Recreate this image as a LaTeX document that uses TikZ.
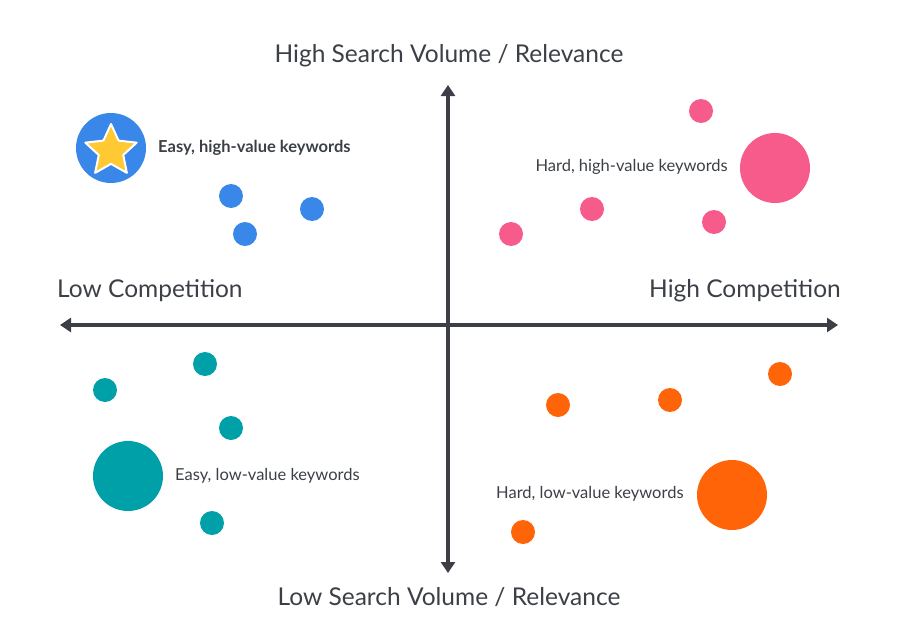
\documentclass[tikz,border=0pt]{standalone}
\usepackage{fontspec}
\setmainfont{Lato}
\usetikzlibrary{shapes.geometric,arrows.meta}
\definecolor{ax}{HTML}{3C4046}
\definecolor{cb}{HTML}{3A87EA}
\definecolor{cp}{HTML}{F75B8B}
\definecolor{ct}{HTML}{00A0A8}
\definecolor{co}{HTML}{FF6508}
\definecolor{cy}{HTML}{FFC933}
\begin{document}
\begin{tikzpicture}[x=1pt,y=-1pt,
  axis/.style={draw=ax,line width=4pt,{Triangle[length=11pt,width=14pt]}-{Triangle[length=11pt,width=14pt]}},
  sm/.style={circle,minimum size=24pt,inner sep=0pt},
  bg/.style={circle,minimum size=70pt,inner sep=0pt},
  ttl/.style={font=\fontsize{24.5}{28}\selectfont,text=ax,inner sep=0pt},
  lbl/.style={font=\fontsize{16.5}{19}\selectfont,text=ax,inner sep=0pt}]
\useasboundingbox (0,0) rectangle (898,624);
\coordinate (L) at (60,325); \coordinate (R) at (838,325);
\coordinate (T) at (448,85); \coordinate (B) at (448,573);
\draw[axis] (L) -- (R);
\draw[axis] (T) -- (B);
\node[ttl] (t1) at (449,56) {High Search Volume / Relevance};
\node[ttl] (t2) at (449,597) {Low Search Volume / Relevance};
\node[ttl,anchor=west] (t3) at (57,291) {Low Competition};
\node[ttl,anchor=east] (t4) at (841,291) {High Competition};
% blue
\node[bg,fill=cb] (bs) at (111,148) {};
\node[star,star points=5,star point ratio=2.1,minimum size=54pt,inner sep=0pt,fill=cy,draw=white,line width=2pt,line join=round] (st) at (111,151) {};
\node[sm,fill=cb] (b1) at (231,196) {};
\node[sm,fill=cb] (b2) at (312,209) {};
\node[sm,fill=cb] (b3) at (245,234) {};
\node[lbl,anchor=west,font=\fontsize{16.5}{19}\selectfont\bfseries] (lb) at (158,148) {Easy, high-value keywords};
% pink
\node[sm,fill=cp] (p1) at (701,111) {};
\node[bg,fill=cp] (p2) at (775,168) {};
\node[sm,fill=cp] (p3) at (592,209) {};
\node[sm,fill=cp] (p4) at (714,222) {};
\node[sm,fill=cp] (p5) at (511,234) {};
\node[lbl,anchor=east] (lp) at (728,167) {Hard, high-value keywords};
% teal
\node[sm,fill=ct] (c1) at (205,364) {};
\node[sm,fill=ct] (c2) at (105,390) {};
\node[sm,fill=ct] (c3) at (231,428) {};
\node[bg,fill=ct] (c4) at (128,476) {};
\node[sm,fill=ct] (c5) at (212,523) {};
\node[lbl,anchor=west] (lt) at (175,476) {Easy, low-value keywords};
% orange
\node[sm,fill=co] (o1) at (780,374) {};
\node[sm,fill=co] (o2) at (670,400) {};
\node[sm,fill=co] (o3) at (558,405) {};
\node[sm,fill=co] (o4) at (523,532) {};
\node[bg,fill=co] (o5) at (732,495) {};
\node[lbl,anchor=west] (lo) at (496,494) {Hard, low-value keywords};
\end{tikzpicture}
\end{document}
